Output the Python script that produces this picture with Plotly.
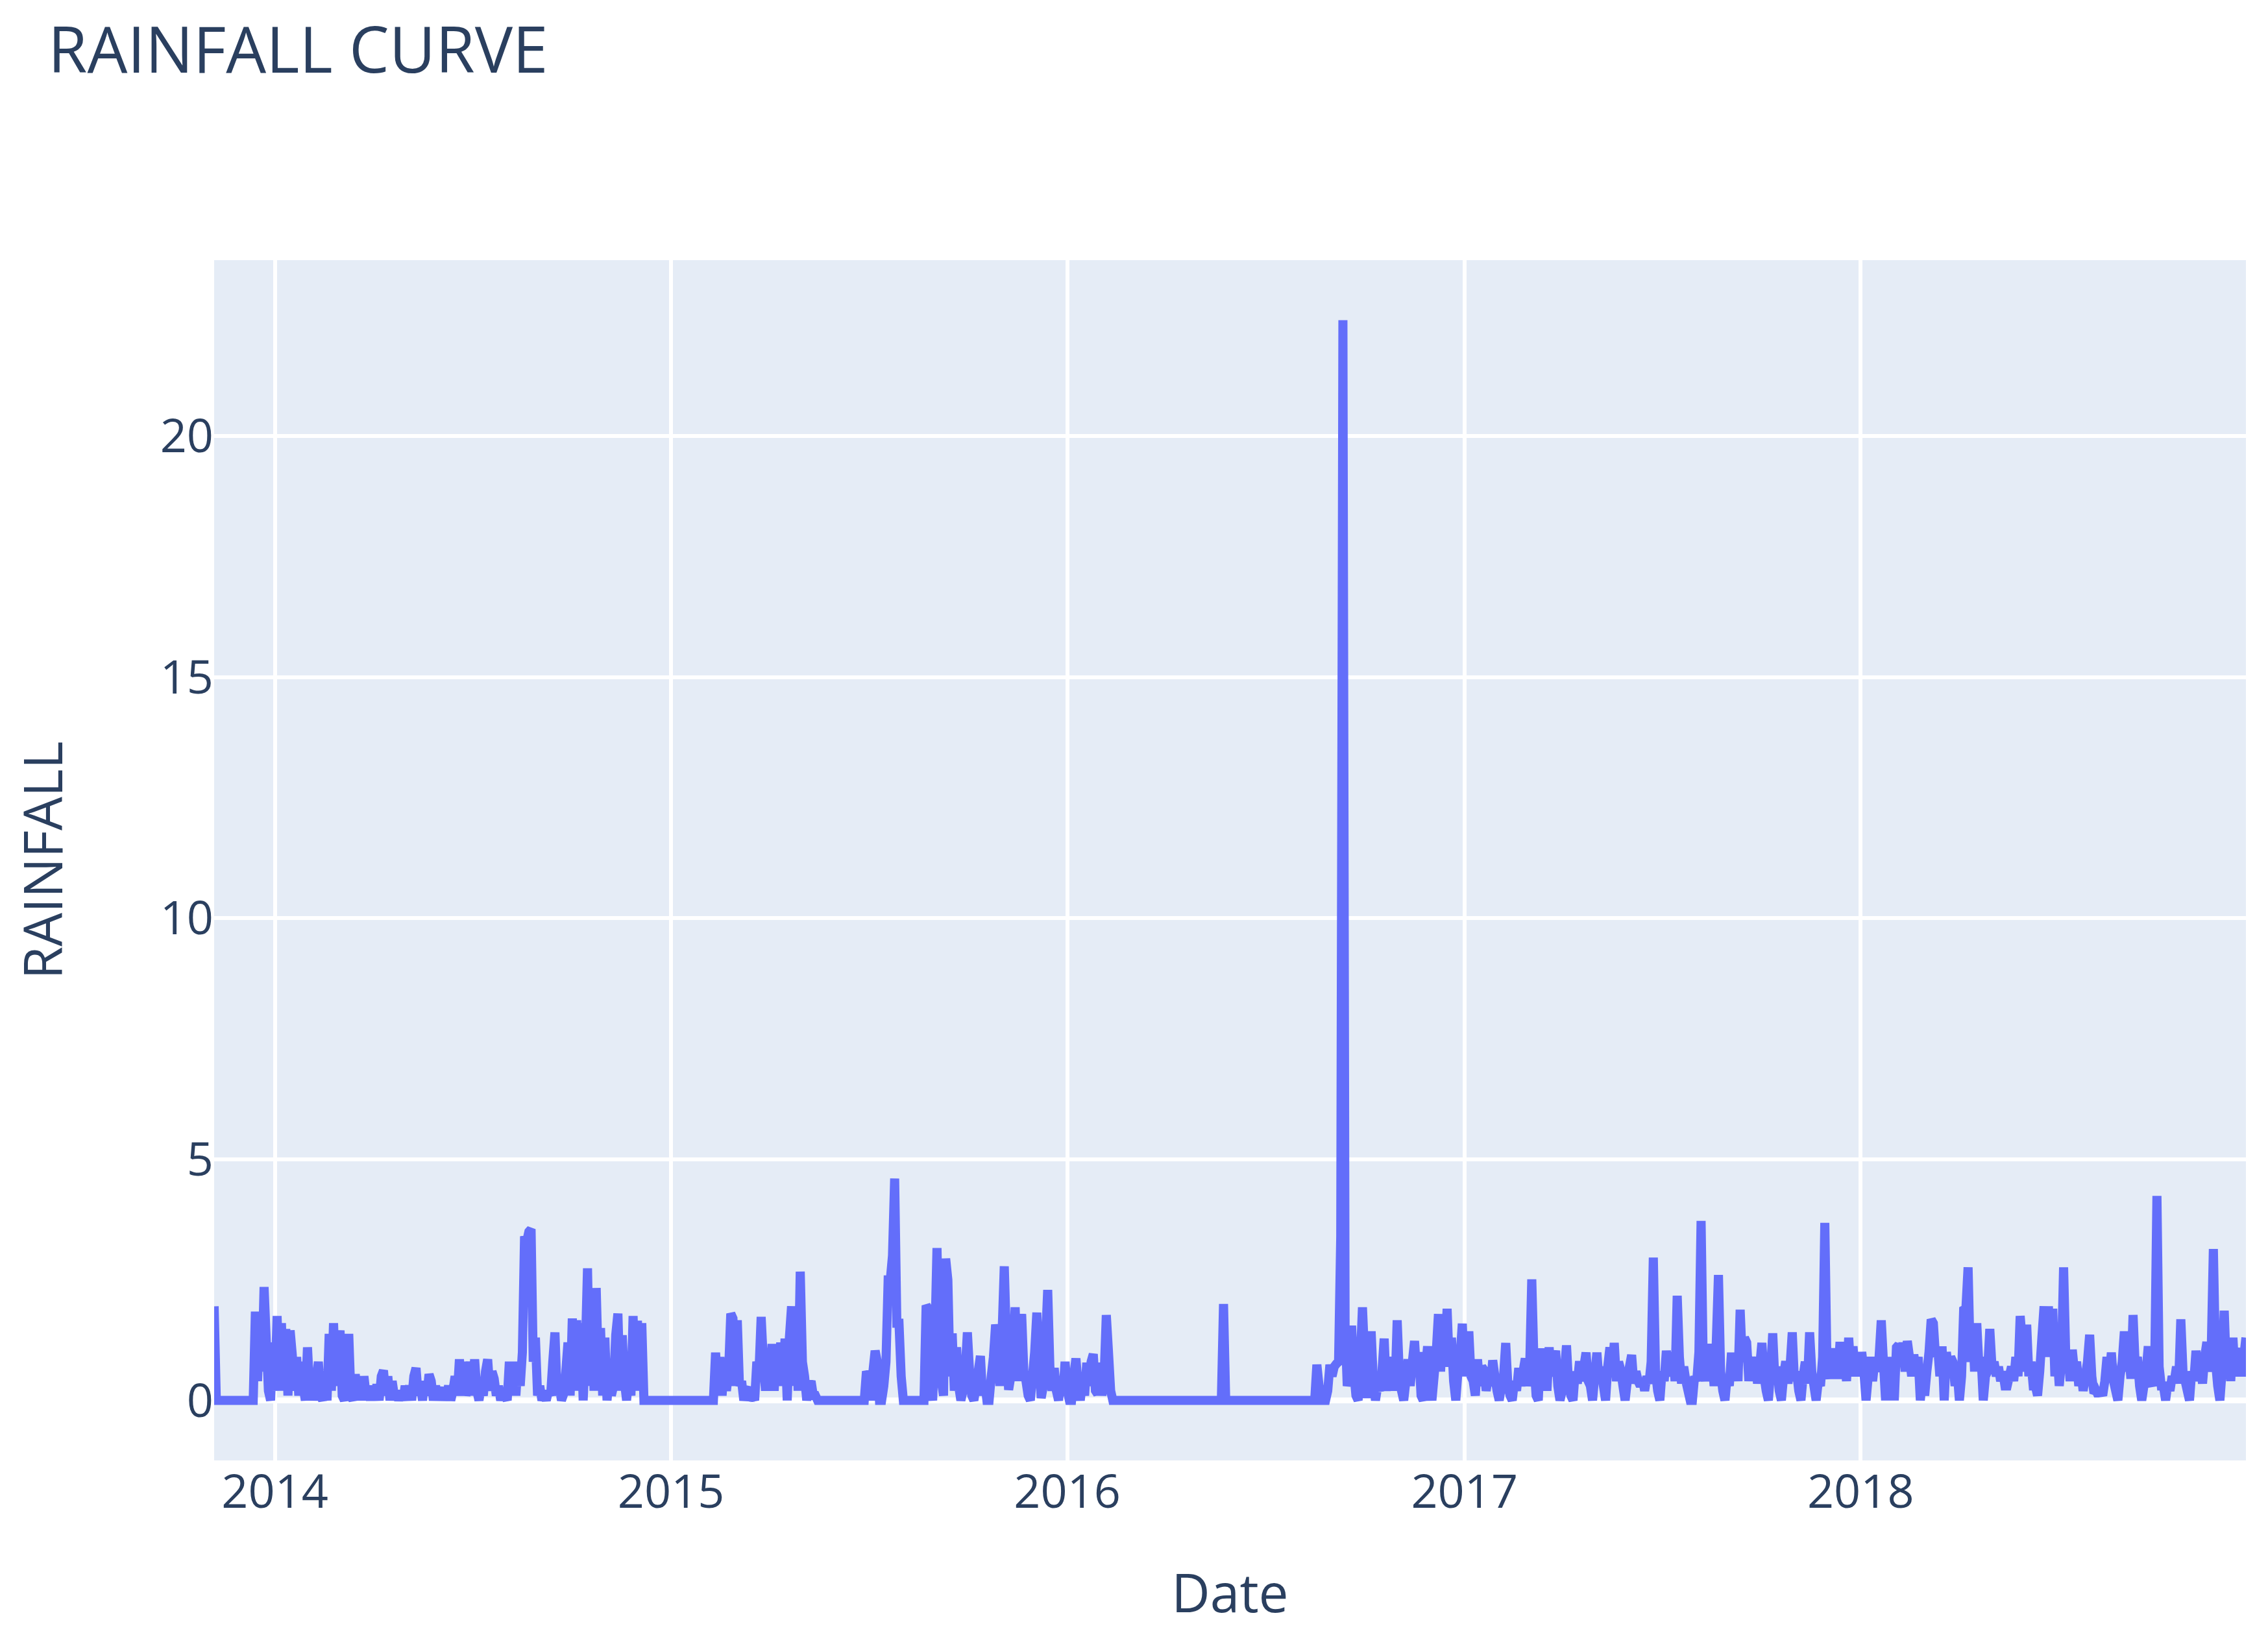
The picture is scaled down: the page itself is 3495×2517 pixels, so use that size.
import pandas as pd
import plotly.graph_objects as go

# rainfall readings in stretches of 2-day steps; zero between stretches
start_a = "2013-11-06"
rain_a = [1.95, 0]

start_b = "2013-12-10"
rain_b = [0, 0, 1.84, 0.4, 1.8, 0.6, 2.35, 1.25, 0.2, 0,
          1.2, 0.2, 1.75, 0.3, 1.6, 0.2, 1.48, 0.1, 1.45, 0.94,
          0.2, 0.9, 0.1, 0.8, 0.3, 0, 1.1, 0.2, 0.5, 0,
          0.4, 0.8, 0.1, 0, 0.4, 0, 1.38, 0.2, 1.6, 0.3,
          1.0, 1.45, 0.1, 0, 0.3, 1.38, 0.1, 0, 0.54, 0.1,
          0.5, 0, 0.5, 0.1, 0.3, 0, 0.3, 0.05, 0.33, 0,
          0.5, 0.62, 0.1, 0.5, 0, 0.4, 0.1, 0.2, 0, 0.18,
          0, 0.3, 0.1, 0.3, 0, 0.5, 0.67, 0.1, 0.3, 0,
          0.4, 0.1, 0.54, 0.4, 0, 0.3, 0.1, 0.27, 0, 0.22,
          0.1, 0.3, 0, 0.2, 0.5, 0.1, 0.85, 0.2, 0.8, 0.1,
          0.3, 0.8, 0.1, 0.85, 0.2, 0, 0.3, 0.1, 0.6, 0.85,
          0.2, 0.6, 0.45, 0.1, 0.3, 0, 0.2, 0.1, 0, 0.8,
          0.2, 0.8, 0.1, 0.8, 0.3, 1.0, 3.4, 3.3, 3.5, 3.55,
          0.8, 1.3, 0.1, 0.3, 0, 0.13, 0, 0.2, 0.1, 0.8,
          1.41, 0.1, 0.3, 0, 0.13, 0.6, 1.2, 0.1, 1.7, 0.3,
          1.66, 0.2, 1.6, 0, 1.0, 2.74, 0.3, 2.0, 0.2, 2.33,
          0.6, 1.5, 0.1, 1.3, 0, 0.54, 0.1, 0.3, 1.35, 1.8,
          0.2, 1.35, 0.4, 0, 0.5, 0.1, 1.75, 0.3, 1.65, 0.2,
          1.6, 0, 0]

start_c = "2015-02-09"
rain_c = [0, 0.99, 0.3, 0.9, 0.1, 0.8, 0.2, 0.6, 1.8, 1.7,
          0.3, 1.66, 0.3, 0.4, 0, 0.2, 0.27, 0, 0.1, 0,
          0.8, 0.6, 1.73, 0.8, 0.2, 0.87, 0.3, 1.17, 0.2, 1.1,
          0.4, 1.2, 0.3, 1.28, 0, 1.3, 1.95, 0.3, 1.9, 0.2,
          2.67, 0.8, 0.5, 0, 0.3, 0.4, 0.1, 0.1, 0]

start_d = "2015-06-28"
rain_d = [0, 0.6, 0.5, 0, 0.6, 1.03, 0.8, 0, 0, 0.3,
          0.8, 2.5, 2.5, 3.0, 4.6, 1.6, 1.6, 0.5, 0, 0]

start_e = "2015-08-22"
rain_e = [0, 1.97, 1.9, 0.3, 0, 1.2, 3.16, 1.0, 0.4, 0.1,
          2.94, 2.5, 0.5, 1.39, 0.2, 1.1, 0.3, 0, 0.2, 0.6,
          1.41, 0.6, 0.1, 0, 0.3, 0.6, 0.92, 0.1, 0.4, 0,
          0, 0.5, 0.9, 1.57, 1.3, 0.3, 1.4, 2.78, 1.2, 0.22,
          0.5, 1.0, 1.93, 0.4, 1.5, 1.79, 0.6, 0.4, 0.1, 0,
          0.5, 1.0, 1.82, 0.8, 0.05, 0.3, 1.2, 2.29, 0.7, 0.2,
          0.67, 0.2, 0, 0.4, 0.1, 0.8, 0.2, 0, 0, 0.5,
          0.87, 0.3, 0, 0.4, 0.1, 0.78, 0.3, 0.8, 0.96, 0.2,
          0.13, 0.78, 0.1, 0.5, 1.77, 1.0, 0.2, 0, 0]

start_f = "2016-05-20"
rain_f = [0, 0, 2.0, 0, 0]

start_g = "2016-08-16"
rain_g = [0, 0.74, 0.3, 0, 0, 0, 0.2, 0.74, 0.5, 0.7,
          0.76, 0.8, 3.4, 22.4, 1.55, 0.3, 0.5, 1.55, 0.6, 0.1,
          0, 0.8, 1.93, 0.9, 0.05, 0.6, 1.43, 0.4, 0, 0.3,
          0.2, 0.6, 1.28, 0.2, 0.67, 0.5, 0.9, 0.2, 1.66, 0.5,
          0.2, 0, 0.4, 0.85, 0.3, 0.8, 1.23, 0.5, 1.0, 0.1,
          0, 0.6, 1.12, 0.4, 0, 0.5, 1.0, 1.79, 0.6, 1.7,
          0.9, 1.9, 0.7, 1.3, 0.4, 0, 0.6, 0.9, 1.59, 0.5,
          1.0, 1.43, 0.5, 0.4, 0.1, 0.85, 0.3, 0.7, 0.63, 0.2,
          0.5, 0.3, 0.83, 0.5, 0.2, 0, 0.3, 0.5, 1.19, 0.3,
          0.1, 0, 0.4, 0.2, 0.67, 0.3, 0.6, 0.87, 0.3, 0.6,
          2.51, 0.8, 0.1, 0, 1.08, 0.4, 0.9, 0.2, 1.1, 0.5,
          0.8, 1.03, 0.3, 0, 0.2, 0.6, 1.14, 0.3, 0.1, 0,
          0.6, 0.35, 0.81, 0.4, 0.7, 0.99, 0.4, 0.3, 0, 0.5,
          0.99, 0.4, 0.7, 0.3, 0, 0.7, 1.1, 0.5, 1.19, 0.4,
          0.8, 0.63, 0.3, 0, 0.4, 0.7, 0.94, 0.35, 0.6, 0.4,
          0.3, 0.45, 0.2, 0.5, 0.35, 0.8, 2.96, 0.6, 0.2, 0,
          0.6, 0.4, 1.03, 0.5, 0.8, 0.99, 0.4, 2.17, 0.9, 0.35,
          0.7, 0.4, 0.2, 0, 0, 0.5, 0.4, 1.0, 3.72, 0.7,
          0.4, 1.17, 0.5, 0.9, 0.3, 1.2, 2.6, 0.6, 0.2, 0,
          0.5, 0.3, 0.99, 0.5, 0.9, 0.4, 1.88, 0.8, 1.3, 1.2,
          0.4, 0.9, 0.5, 0.9, 0.35, 0.7, 1.19, 0.5, 0.2, 0,
          0.6, 1.39, 0.4, 0.7, 0.2, 0, 0.5, 0.81, 0.35, 0.7,
          1.41, 0.4, 0.6, 0.2, 0, 0.5, 0.8, 0.35, 1.41, 0.6,
          0.3, 0, 0.4, 0.3, 0.9, 3.68, 0.7, 0.45, 1.08, 0.5,
          0.9, 0.45, 1.21, 0.6, 0.9, 0.4, 1.3, 0.6, 1.12, 0.5,
          0.9, 0.5, 1.0, 0.6, 0, 0.5, 0.9, 0.4, 0.8, 0.6,
          0.9, 1.66, 0.8, 0, 0.8, 0.3, 0.9, 0, 1.1, 1.15,
          0.7, 1.2, 0.6, 1.23, 0.9, 0.5, 0.95, 0.6, 0.9, 0,
          0.5, 0.1, 0.6, 1.0, 1.68, 1.6, 0.9, 1.1, 0.5, 1.12,
          0, 1.0, 0.6, 0.9, 0.8, 0.3, 0.6, 0, 0.5, 1.93,
          1.9, 2.76, 0.8, 1.6, 0.6, 1.6, 0.7, 0.9, 0, 0.5,
          0.6, 1.48, 0.7, 0.8, 0.5, 0.7, 0.4, 0.6, 0.3, 0.3,
          0.5, 0.7, 0.4, 0.9, 0.5, 1.75, 1.2, 0.6, 1.57, 0.5,
          0.8, 0.3, 0.3, 0.1, 0.6, 1.3, 1.95, 0.9, 1.95, 1.0,
          1.9, 0.5, 1.0, 0.3, 0.8, 2.76, 0.9, 1.0, 0.4, 1.05,
          0.6, 0.8, 0.3, 0.6, 0.2, 0.5, 0.8, 1.36, 0.5, 0.15,
          0.2, 0.1, 0.2, 0.1, 0.4, 0.9, 0.5, 0.99, 0.4, 0.2,
          0, 0.5, 0.8, 1.43, 0.6, 1.0, 0.45, 1.77, 0.7, 0.9,
          0.3, 0, 0.3, 0.6, 1.12, 0.4, 0.3, 0.8, 4.24, 0.7,
          0.3, 0.3, 0, 0.35, 0.2, 0.5, 0.4, 0.7, 0.35, 1.68,
          0.6, 0.4, 0.2, 0, 0.6, 0.4, 1.03, 0.5, 0.8, 0.35,
          0.9, 1.21, 0.6, 1.0, 3.14, 0.8, 0.3, 0, 0.6, 1.86,
          0.6, 1.2, 0.4, 1.3, 0.5, 0.9, 1.08, 0.5, 0.9, 1.3]

stretches = [(start_a, rain_a), (start_b, rain_b), (start_c, rain_c), (start_d, rain_d),
             (start_e, rain_e), (start_f, rain_f), (start_g, rain_g)]

dates = []
rainfall = []
for start, vals in stretches:
    dates += list(pd.date_range(start, periods=len(vals), freq="2D"))
    rainfall += vals

df = pd.DataFrame({"Date": dates, "RAINFALL": rainfall})

fig = go.Figure()
fig.add_trace(go.Scatter(x=df["Date"], y=df["RAINFALL"], mode="lines",
                         line=dict(color="#636efa", width=14, simplify=False)))

font_family = "Open Sans, verdana, arial, sans-serif"
axis_font = dict(family=font_family, size=72, color="#2a3f5f")
fig.update_layout(
    width=3479, height=2501,
    template="plotly",
    font=dict(family=font_family, color="#2a3f5f", size=72),
    title=dict(text="RAINFALL CURVE", x=0.019, xanchor="left", y=0.972, yanchor="middle",
               font=dict(size=98, color="#2a3f5f")),
    margin=dict(l=322, r=26, t=393, b=258),
    plot_bgcolor="#E5ECF6",
    showlegend=False,
)
fig.update_xaxes(title=dict(text="Date", font=dict(size=82), standoff=92),
                 range=["2013-11-06", "2018-12-22"], dtick="M12", tick0="2014-01-01",
                 tickfont=axis_font, gridcolor="white", gridwidth=6, showline=False)
fig.update_yaxes(title=dict(text="RAINFALL", font=dict(size=82), standoff=122),
                 range=[-1.245, 23.645], dtick=5, tickfont=axis_font,
                 gridcolor="white", gridwidth=6, zerolinecolor="white", zerolinewidth=9)

fig.write_html("out.html")
